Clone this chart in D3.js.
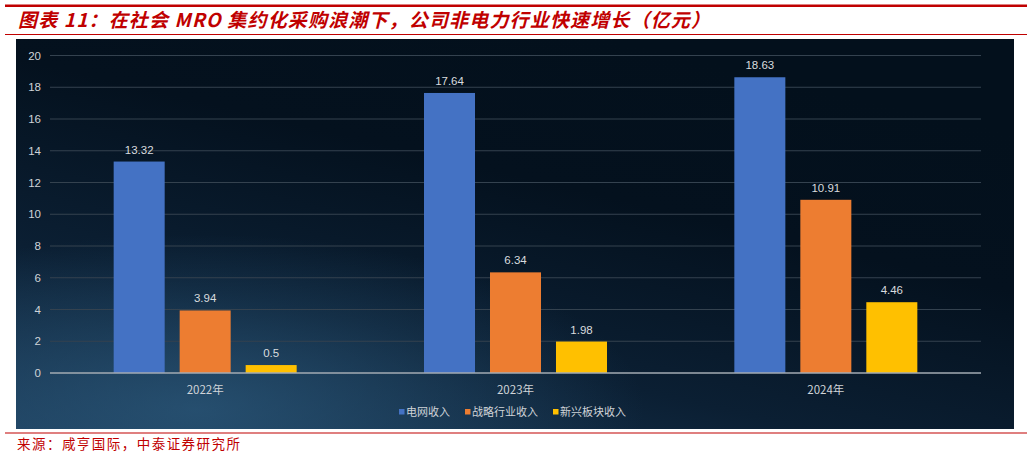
<!DOCTYPE html>
<html>
<head>
<meta charset="utf-8">
<script src="https://cdn.jsdelivr.net/npm/d3@7"></script>
<style>
  body { margin: 0; background: #fff; }
  svg { display: block; }
</style>
</head>
<body>
<svg id="chart"></svg>
<script>
// data
const years = ["2022年", "2023年", "2024年"];
const seriesNames = ["电网收入", "战略行业收入", "新兴板块收入"];
const gridRevenue = [13.32, 17.64, 18.63];
const strategicRevenue = [3.94, 6.34, 10.91];
const emergingRevenue = [0.5, 1.98, 4.46];
const yTicks = [0, 2, 4, 6, 8, 10, 12, 14, 16, 18, 20];
const colors = ["#4472c4", "#ed7d31", "#ffc000"];

const width = 1031;
const height = 457;

const svg = d3.select("#chart")
    .attr("width", width)
    .attr("height", height);

const defs = svg.append("defs");

// фон панели - тёмный "космос"
const lg = defs.append("linearGradient")
    .attr("id", "bg")
    .attr("x1", 0).attr("y1", 1)
    .attr("x2", 0.6).attr("y2", 0);
lg.append("stop").attr("offset", "0%").attr("stop-color", "#1a3a57");
lg.append("stop").attr("offset", "35%").attr("stop-color", "#0b1f33");
lg.append("stop").attr("offset", "70%").attr("stop-color", "#04111e");
lg.append("stop").attr("offset", "100%").attr("stop-color", "#03101c");

const rg = defs.append("radialGradient")
    .attr("id", "glow")
    .attr("cx", 0.18).attr("cy", 0.95).attr("r", 0.45);
rg.append("stop").attr("offset", "0%").attr("stop-color", "#2d5b7e").attr("stop-opacity", 0.7);
rg.append("stop").attr("offset", "100%").attr("stop-color", "#2d5b7e").attr("stop-opacity", 0);

// заголовок
svg.append("rect")
    .attr("x", 5).attr("y", 4.5)
    .attr("width", 1022).attr("height", 2.5)
    .attr("fill", "#c00000");

svg.append("text")
    .attr("x", 18).attr("y", 27)
    .attr("textLength", 692)
    .attr("lengthAdjust", "spacing")
    .style("font-family", "'Noto Sans CJK SC', sans-serif")
    .style("font-size", "19px")
    .style("font-weight", "bold")
    .style("font-style", "italic")
    .style("fill", "#c00000")
    .text("图表 11：在社会 MRO 集约化采购浪潮下，公司非电力行业快速增长（亿元）");

svg.append("rect")
    .attr("x", 5).attr("y", 34)
    .attr("width", 1022).attr("height", 1)
    .attr("fill", "#c00000");

// панель
const panel = { x: 16, y: 39, w: 998, h: 390 };
svg.append("rect")
    .attr("x", panel.x).attr("y", panel.y)
    .attr("width", panel.w).attr("height", panel.h)
    .attr("fill", "url(#bg)");
svg.append("rect")
    .attr("x", panel.x).attr("y", panel.y)
    .attr("width", panel.w).attr("height", panel.h)
    .attr("fill", "url(#glow)");

const plot = { left: 50, right: 981, top: 55.5, bottom: 373 };

const x = d3.scaleBand()
    .domain(years)
    .range([plot.left, plot.right])
    .padding(0);

const groupWidth = 183;
const xInner = d3.scaleBand()
    .domain(seriesNames)
    .range([-groupWidth / 2, groupWidth / 2])
    .paddingInner(0.227)
    .paddingOuter(0);

const y = d3.scaleLinear()
    .domain([0, 20])
    .range([plot.bottom, plot.top]);

// сетка
svg.append("g")
    .selectAll("line")
    .data(yTicks.filter(d => d !== 0))
    .join("line")
    .attr("x1", plot.left).attr("x2", plot.right)
    .attr("y1", d => y(d)).attr("y2", d => y(d))
    .attr("stroke", "#34424f")
    .attr("stroke-width", 1);

// ось Y
const yAxis = d3.axisLeft(y).tickValues(yTicks).tickSize(0).tickPadding(9);
const gy = svg.append("g")
    .attr("transform", `translate(${plot.left}, 0)`)
    .call(yAxis);
gy.select(".domain").remove();
gy.selectAll("text")
    .style("font-family", "'Liberation Sans', Arial, sans-serif")
    .style("font-size", "11.5px")
    .style("fill", "#d0d4d8");

// столбцы
const table = years.map((yr, i) => ({
    year: yr,
    values: [gridRevenue[i], strategicRevenue[i], emergingRevenue[i]]
}));

const groups = svg.append("g")
    .selectAll("g")
    .data(table)
    .join("g")
    .attr("transform", d => `translate(${x(d.year) + x.bandwidth() / 2}, 0)`);

groups.selectAll("rect")
    .data(d => d.values.map((v, j) => ({ name: seriesNames[j], value: v, j })))
    .join("rect")
    .attr("x", d => xInner(d.name))
    .attr("y", d => y(d.value))
    .attr("width", xInner.bandwidth())
    .attr("height", d => y(0) - y(d.value))
    .attr("fill", d => colors[d.j]);

groups.selectAll("text")
    .data(d => d.values.map((v, j) => ({ name: seriesNames[j], value: v })))
    .join("text")
    .attr("x", d => xInner(d.name) + xInner.bandwidth() / 2)
    .attr("y", d => y(d.value) - 8)
    .attr("text-anchor", "middle")
    .style("font-family", "'Liberation Sans', Arial, sans-serif")
    .style("font-size", "11.5px")
    .style("fill", "#d9dcdf")
    .text(d => d.value);

// ось X
svg.append("line")
    .attr("x1", plot.left).attr("x2", plot.right)
    .attr("y1", y(0)).attr("y2", y(0))
    .attr("stroke", "#a3abb3")
    .attr("stroke-width", 1.3);

const xAxis = d3.axisBottom(x).tickSize(0).tickPadding(13);
const gx = svg.append("g")
    .attr("transform", `translate(0, ${y(0)})`)
    .call(xAxis);
gx.select(".domain").remove();
gx.selectAll("text")
    .style("font-family", "'Noto Sans CJK SC', sans-serif")
    .style("font-size", "11.5px")
    .style("fill", "#d0d4d8");

// легенда
const legend = svg.append("g").attr("transform", "translate(399, 412)");
let lx = 0;
seriesNames.forEach((name, i) => {
    const item = legend.append("g").attr("transform", `translate(${lx}, 0)`);
    item.append("rect")
        .attr("x", 0).attr("y", -3)
        .attr("width", 5.5).attr("height", 5.5)
        .attr("fill", colors[i]);
    const t = item.append("text")
        .attr("x", 7).attr("y", 4)
        .style("font-family", "'Noto Sans CJK SC', sans-serif")
        .style("font-size", "11px")
        .style("fill", "#d0d4d8")
        .text(name);
    lx += 7 + t.node().getComputedTextLength() + 15;
});

// источник
svg.append("rect")
    .attr("x", 5).attr("y", 432.5)
    .attr("width", 1022).attr("height", 1)
    .attr("fill", "#c00000");

svg.append("text")
    .attr("x", 17).attr("y", 449)
    .attr("textLength", 223)
    .attr("lengthAdjust", "spacing")
    .style("font-family", "'Noto Sans CJK SC', sans-serif")
    .style("font-size", "13.5px")
    .style("fill", "#c00000")
    .text("来源：咸亨国际，中泰证券研究所");
</script>
</body>
</html>
